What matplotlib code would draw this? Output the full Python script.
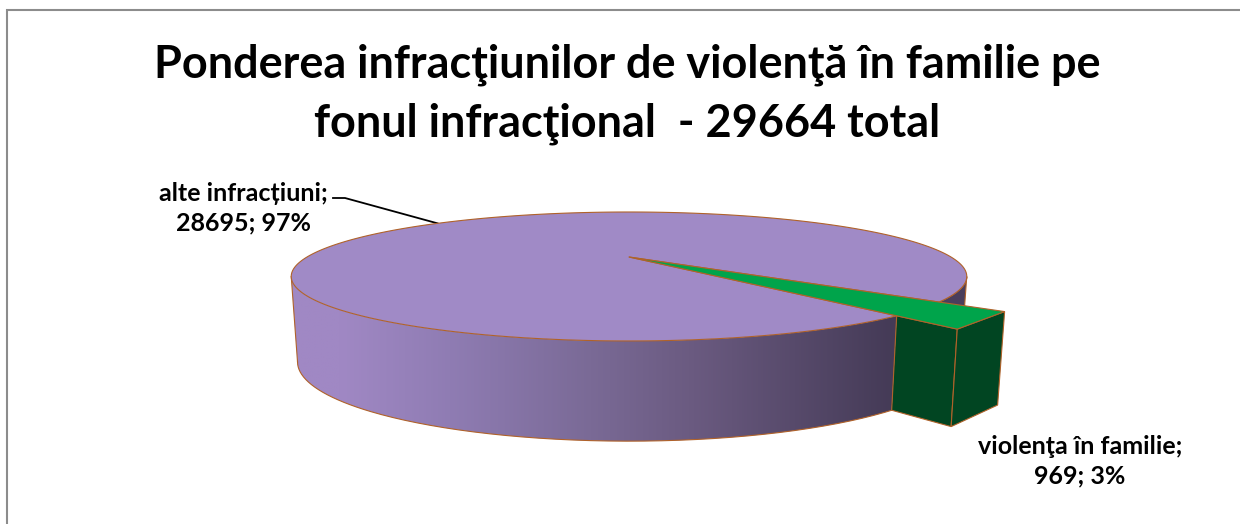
import numpy as np
import matplotlib
matplotlib.use("Agg")
import matplotlib.pyplot as plt
from matplotlib.patches import Polygon
from matplotlib.colors import LinearSegmentedColormap

categories = ["alte infracțiuni", "violenţa în familie"]
values = [28695, 969]
percent_labels = ["97%", "3%"]
title_lines = ["Ponderea infracţiunilor de violenţă în familie pe",
               "fonul infracţional  - 29664 total"]

W, H = 1240, 524
plt.rcParams["font.family"] = ["Lato", "DejaVu Sans"]
fig = plt.figure(figsize=(W / 100, H / 100), dpi=100)
ax = fig.add_axes([0, 0, 1, 1])
ax.set_xlim(0, W)
ax.set_ylim(H, 0)
ax.axis("off")

CX = 629
K = 0.302
TOP = dict(A=322, B=58.6, y0=257)
BOT = dict(A=316, B=72, y0=338)
EDGE = "#B0622A"
LW = 0.8


def proj(theta_deg, r, plane):
    th = np.radians(theta_deg)
    X, F = r * np.cos(th), r * np.sin(th)
    w = 1 - K * F
    return np.column_stack([CX + plane["A"] * X / w, plane["y0"] + plane["B"] * F / w])


def arc(a, b, r, plane, n=200):
    return proj(np.linspace(a, b, n), r * np.ones(n), plane)


total = sum(values)
start = 38.6
sweep = 360 * values[1] / total
g0, g1 = start, start + sweep
R_OUT = 1.165
SIL_R, SIL_L = 17.6, 162.4

# dark back-right side
ax.add_patch(Polygon(np.vstack([arc(SIL_R, g0, 1, TOP), arc(g0, SIL_R, 1, BOT)]),
                     fc="#4A3E5C", ec=EDGE, lw=LW, zorder=1))

# purple side with gradient
side = Polygon(np.vstack([arc(g1, SIL_L, 1, TOP), arc(SIL_L, g1, 1, BOT)]),
               fc="none", ec="none", zorder=2)
ax.add_patch(side)
cmap = LinearSegmentedColormap.from_list(
    "side", [(0, "#A088C4"), (0.09, "#A088C4"), (0.27, "#8F7CB3"), (0.5, "#7A6A96"),
             (0.67, "#6A5A80"), (1, "#443A56")])
im = ax.imshow(np.linspace(0, 1, 512)[None, :], extent=(285, 897, 445, 270), cmap=cmap,
               aspect="auto", zorder=2, interpolation="bilinear")
im.set_clip_path(side)
ax.set_xlim(0, W)
ax.set_ylim(H, 0)
ax.plot(*arc(SIL_L, g1, 1, BOT).T, color=EDGE, lw=LW, zorder=3)
ax.plot(*np.vstack([proj(SIL_L, 1, TOP), proj(SIL_L, 1, BOT)]).T, color=EDGE, lw=LW, zorder=3)

# purple top
apex = proj(0, 0, TOP)
ax.add_patch(Polygon(np.vstack([apex, arc(g1, g0 + 360, 1, TOP, 600)]),
                     fc="#A08AC6", ec=EDGE, lw=LW, zorder=4, joinstyle="round"))

# green faces
a_top = proj(g0, R_OUT, TOP)
b_top = proj(g1, R_OUT, TOP)
c_top = proj(g1, 1, TOP)
ax.add_patch(Polygon(np.vstack([c_top, b_top, proj(g1, R_OUT, BOT), proj(g1, 1, BOT)]),
                     fc="#014522", ec=EDGE, lw=LW, zorder=5))
ax.add_patch(Polygon(np.vstack([b_top, a_top, proj(g0, R_OUT, BOT), proj(g1, R_OUT, BOT)]),
                     fc="#014522", ec=EDGE, lw=LW, zorder=5))
ax.add_patch(Polygon(np.vstack([apex, a_top, b_top]),
                     fc="#00A44B", ec=EDGE, lw=LW, zorder=6))

# frame: only the top and left edges are visible
ax.plot([7, 7, W], [H, 10, 10], color="#8C8C8C", lw=1.5, zorder=10, solid_joinstyle="miter",
        clip_on=True)

# title
ax.text(627, 65, title_lines[0], ha="center", va="center", fontsize=32.4, fontweight="bold", color="black")
ax.text(627, 124, title_lines[1], ha="center", va="center", fontsize=32.4, fontweight="bold", color="black")

# labels
LBL = dict(fontsize=18, fontweight="bold", color="black", ha="center", va="center", linespacing=1.32)
ax.text(243, 208, f"{categories[0]};\n{values[0]}; {percent_labels[0]}", **LBL)
ax.text(1080, 461, f"{categories[1]};\n{values[1]}; {percent_labels[1]}", **LBL)
tip = proj(-136, 1, TOP)[0]
ax.plot([333, 345, tip[0]], [198, 198, tip[1]], color="black", lw=1.3, zorder=3)

fig.savefig("out.png", dpi=100, facecolor="white")
